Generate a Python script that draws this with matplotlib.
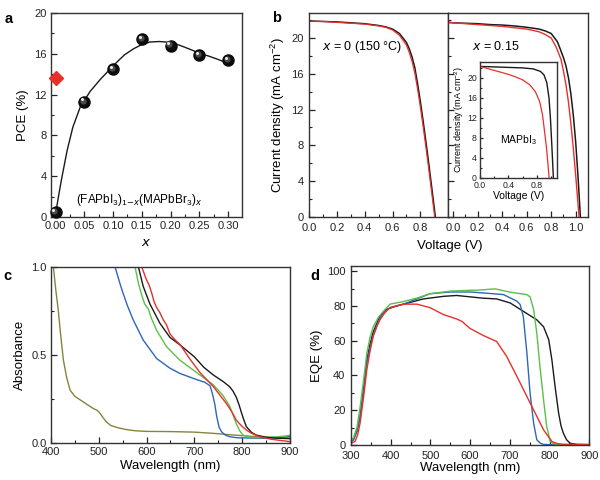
import numpy as np
import matplotlib
matplotlib.use("Agg")
import matplotlib.pyplot as plt
import matplotlib.transforms as mtransforms
from matplotlib.ticker import MultipleLocator, FormatStrFormatter

plt.rcParams['font.family'] = ['Liberation Sans', 'DejaVu Sans']
plt.rcParams['mathtext.default'] = 'regular'
plt.rcParams['axes.edgecolor'] = '#333333'
plt.rcParams['axes.linewidth'] = 1.0

# ---- panel a: PCE vs x
x_comp = [0.00, 0.05, 0.10, 0.15, 0.20, 0.25, 0.30]
pce = [0.5, 11.3, 14.5, 17.4, 16.8, 15.9, 15.4]
x_mapbi3 = [0.0]
pce_mapbi3 = [13.6]
fit_x = [0.0, 0.005, 0.01, 0.02, 0.03, 0.043, 0.06, 0.078, 0.095, 0.107, 0.12, 0.136, 0.15, 0.164,
         0.18, 0.193, 0.21, 0.222, 0.24, 0.251, 0.265, 0.28, 0.303]
fit_y = [0.3, 2.0, 3.6, 6.5, 8.8, 10.8, 12.3, 13.5, 14.5, 15.2, 15.9, 16.5, 16.9, 17.15,
         17.2, 17.15, 16.95, 16.7, 16.3, 16.0, 15.8, 15.5, 15.0]

# ---- panel b: J-V curves
v_b0 = [0.0, 0.1, 0.2, 0.3, 0.4, 0.5, 0.55, 0.6, 0.65, 0.7, 0.72, 0.74, 0.76, 0.78, 0.8,
        0.82, 0.84, 0.86, 0.88, 0.9, 0.91]
j_b0_black = [21.9, 21.85, 21.8, 21.7, 21.6, 21.4, 21.25, 21.0, 20.5, 19.5, 18.8, 17.9, 16.7,
              14.9, 12.9, 10.7, 8.4, 6.0, 3.5, 1.0, -0.3]
j_b0_red = [21.9, 21.85, 21.75, 21.65, 21.55, 21.35, 21.2, 20.9, 20.3, 19.2, 18.4, 17.4, 16.1,
            14.3, 12.3, 10.1, 7.8, 5.4, 2.9, 0.4, -0.8]

v_b15_black = [-0.04, 0.0, 0.1, 0.2, 0.3, 0.4, 0.5, 0.6, 0.7, 0.75, 0.8, 0.85, 0.87, 0.9, 0.92,
               0.94, 0.96, 0.98, 1.0, 1.02, 1.04]
j_b15_black = [21.75, 21.7, 21.65, 21.6, 21.5, 21.45, 21.35, 21.2, 21.0, 20.8, 20.5, 19.6, 18.9,
               17.8, 16.9, 15.6, 13.8, 11.4, 8.3, 4.2, -0.5]
v_b15_red = [-0.04, 0.0, 0.1, 0.2, 0.3, 0.4, 0.5, 0.6, 0.7, 0.75, 0.8, 0.84, 0.88, 0.9, 0.92,
             0.94, 0.96, 0.98, 1.0, 1.02, 1.03]
j_b15_red = [21.75, 21.7, 21.6, 21.5, 21.4, 21.3, 21.15, 21.0, 20.7, 20.4, 20.0, 19.0, 17.6,
             16.3, 14.8, 12.9, 10.5, 7.7, 4.6, 1.2, -0.6]

v_in_black = [0.0, 0.2, 0.4, 0.6, 0.75, 0.85, 0.9, 0.94, 0.97, 0.99, 1.01, 1.025, 1.035]
j_in_black = [22.3, 22.2, 22.1, 22.0, 21.8, 21.3, 20.6, 19.0, 16.0, 12.0, 6.5, 2.0, -1.0]
v_in_red = [0.0, 0.1, 0.2, 0.3, 0.4, 0.5, 0.6, 0.7, 0.78, 0.84, 0.88, 0.91, 0.935, 0.955, 0.975]
j_in_red = [22.3, 21.9, 21.5, 21.1, 20.7, 20.2, 19.6, 18.6, 17.2, 15.2, 12.5, 9.0, 6.0, 2.8, -0.5]

# ---- panel c: absorbance
olive_wl = [405, 410, 415, 420, 426, 433, 440, 450, 461, 475, 488, 497, 503, 510, 516, 525, 540,
            555, 575, 600, 650, 700, 740, 780, 820, 860, 900]
olive_abs = [1.0, 0.87, 0.76, 0.62, 0.47, 0.37, 0.30, 0.265, 0.245, 0.22, 0.197, 0.185, 0.168,
             0.14, 0.12, 0.10, 0.087, 0.078, 0.07, 0.066, 0.065, 0.062, 0.055, 0.046, 0.038,
             0.032, 0.028]
blue_wl = [534, 545, 551, 560, 572, 593, 621, 649, 670, 700, 722, 733, 738, 743, 747, 752, 757,
           765, 774, 790, 820, 844, 870, 893, 900]
blue_abs = [1.0, 0.9, 0.85, 0.78, 0.70, 0.585, 0.48, 0.425, 0.395, 0.365, 0.345, 0.325, 0.28,
            0.22, 0.15, 0.09, 0.064, 0.045, 0.036, 0.03, 0.028, 0.027, 0.03, 0.036, 0.037]
green_wl = [576, 583, 590, 596, 600, 604, 610, 621, 642, 670, 705, 740, 760, 774, 781, 788, 795,
            802, 815, 830, 860, 893, 900]
green_abs = [1.0, 0.907, 0.84, 0.79, 0.775, 0.76, 0.71, 0.64, 0.547, 0.47, 0.40, 0.33, 0.27,
             0.21, 0.16, 0.11, 0.07, 0.045, 0.033, 0.03, 0.033, 0.04, 0.045]
black_wl = [583, 593, 607, 628, 649, 670, 700, 720, 740, 760, 774, 781, 788, 794, 799, 804, 809,
            820, 830, 850, 870, 900]
black_abs = [1.0, 0.89, 0.79, 0.68, 0.60, 0.557, 0.49, 0.43, 0.386, 0.35, 0.32, 0.295, 0.26,
             0.215, 0.17, 0.13, 0.093, 0.06, 0.045, 0.033, 0.028, 0.025]
red_wl = [590, 600, 605, 611, 616, 621, 628, 635, 642, 649, 655, 662, 670, 690, 712, 740, 767,
          778, 788, 798, 809, 820, 837, 860, 900]
red_abs = [1.0, 0.926, 0.9, 0.85, 0.80, 0.77, 0.74, 0.70, 0.67, 0.62, 0.60, 0.58, 0.56, 0.48,
           0.40, 0.32, 0.225, 0.18, 0.13, 0.10, 0.074, 0.055, 0.036, 0.022, 0.008]

# ---- panel d: EQE
black_d_wl = [300, 306, 315, 323, 332, 340, 348, 356, 365, 373, 382, 390, 415, 449, 482, 533,
              566, 600, 630, 667, 701, 734, 768, 785, 798, 806, 814, 823, 829, 835, 843, 852,
              870, 900]
black_d = [2, 3, 8, 16.5, 33, 49, 58, 65, 70, 74, 76.5, 78, 80, 82, 84, 85.5, 86, 85.2, 84.5,
           84, 81.7, 76.9, 72, 68, 60.6, 49, 33.7, 18.3, 11, 6.7, 3, 1, 0.3, 0.2]
green_d_wl = [300, 306, 315, 323, 332, 340, 348, 356, 369, 382, 398, 432, 466, 499, 550, 600,
              616, 663, 701, 743, 751, 760, 768, 776, 785, 793, 802, 810, 820, 900]
green_d = [3, 4, 10, 22, 38, 53, 62, 68, 73.5, 77, 81, 82.5, 84.5, 87, 88.5, 89, 89, 89.8, 87.9,
           86.5, 85.2, 78, 64.4, 45, 26, 10.6, 2, 0.8, 0.3, 0.2]
blue_d_wl = [300, 306, 315, 323, 332, 340, 348, 356, 365, 373, 385, 398, 432, 466, 499, 550,
             600, 642, 684, 718, 726, 734, 743, 751, 760, 768, 777, 785, 800, 900]
blue_d = [2, 3, 8, 16.5, 31, 47, 56, 63, 69, 73, 76.5, 79, 81, 84, 87, 88, 88, 87.3, 86.5, 82.7,
          80.8, 74, 53, 30, 12.5, 3, 1, 0.3, 0.2, 0.2]
red_d_wl = [300, 310, 317, 323, 332, 340, 348, 356, 365, 373, 385, 398, 432, 466, 499, 533, 566,
            580, 600, 633, 667, 692, 718, 743, 764, 785, 806, 820, 835, 900]
red_d = [1, 2, 6, 12.7, 28, 43.5, 54, 62.5, 68, 72, 76, 79, 81, 81, 79, 75, 72.5, 71, 67, 63,
         59.5, 51, 39.4, 27.9, 18.3, 8.7, 2, 0.8, 0.3, 0.2]

C_BLACK = '#1a1a1a'
C_RED = '#e8302a'
C_BLUE = '#2e66b8'
C_GREEN = '#5cbf48'
C_OLIVE = '#85843e'
FS_TICK = 8
FS_LAB = 9.5


def style(ax, xmaj, xmin, ymaj, ymin):
    ax.xaxis.set_major_locator(MultipleLocator(xmaj))
    ax.xaxis.set_minor_locator(MultipleLocator(xmin))
    ax.yaxis.set_major_locator(MultipleLocator(ymaj))
    ax.yaxis.set_minor_locator(MultipleLocator(ymin))
    ax.tick_params(which='both', direction='in', top=False, right=False,
                   labelsize=FS_TICK, colors='#222222', pad=3)
    ax.tick_params(which='major', length=4, width=0.9)
    ax.tick_params(which='minor', length=2.2, width=0.8)


fig = plt.figure(figsize=(6, 4.8), dpi=100)

# ---------------- a
ax_a = fig.add_axes([0.085, 0.548, 0.318, 0.425])
ax_a.plot(fit_x, fit_y, color=C_BLACK, lw=1.0, zorder=2)
ax_a.plot(x_comp, pce, 'o', ms=8, color='#0c0c0c', zorder=3, clip_on=False)
hl = mtransforms.offset_copy(ax_a.transData, fig=fig, x=-0.8, y=0.8, units='points')
ax_a.plot(x_comp, pce, 'o', ms=4.5, color='#4a4a4a', mec='none', transform=hl, zorder=4, clip_on=False)
hl2 = mtransforms.offset_copy(ax_a.transData, fig=fig, x=-1.6, y=1.6, units='points')
ax_a.plot(x_comp, pce, 'o', ms=2.2, color='#e6e6e6', mec='none', transform=hl2, zorder=5, clip_on=False)
ax_a.plot(x_mapbi3, pce_mapbi3, 'D', ms=7, color=C_RED, mec=C_RED, zorder=3, clip_on=False)
ax_a.set_xlim(-0.008, 0.324)
ax_a.set_ylim(0, 20)
style(ax_a, 0.05, 0.025, 4, 2)
ax_a.xaxis.set_major_formatter(FormatStrFormatter('%.2f'))
ax_a.set_xlabel('$\\mathit{x}$', fontsize=FS_LAB, labelpad=4)
ax_a.set_ylabel('PCE (%)', fontsize=FS_LAB, labelpad=4)
ax_a.text(0.46, 0.085, r'(FAPbI$_3$)$_{1\mathit{-x}}$(MAPbBr$_3$)$_\mathit{x}$', transform=ax_a.transAxes,
          ha='center', va='center', fontsize=8.5)

# ---------------- b
ax_b1 = fig.add_axes([0.515, 0.548, 0.232, 0.425])
ax_b2 = fig.add_axes([0.747, 0.548, 0.233, 0.425])
ax_b1.plot(v_b0, j_b0_black, color=C_BLACK, lw=1.1)
ax_b1.plot(v_b0, j_b0_red, color=C_RED, lw=0.9)
ax_b1.set_xlim(0, 1.0)
ax_b1.set_ylim(0, 22.8)
style(ax_b1, 0.2, 0.1, 4, 2)
ax_b1.set_xticks([0.0, 0.2, 0.4, 0.6, 0.8])
ax_b1.xaxis.set_major_formatter(FormatStrFormatter('%.1f'))
ax_b1.tick_params(axis='y', pad=4)
ax_b1.tick_params(axis='x', pad=4)
ax_b1.set_ylabel('Current density (mA cm$^{-2}$)', fontsize=FS_LAB, labelpad=3)
ax_b1.text(0.09, 0.82, '$\\mathit{x}$ = 0 (150 °C)', transform=ax_b1.transAxes, fontsize=9)

ax_b2.plot(v_b15_black, j_b15_black, color=C_BLACK, lw=1.1)
ax_b2.plot(v_b15_red, j_b15_red, color=C_RED, lw=1.0)
ax_b2.set_xlim(-0.04, 1.1)
ax_b2.set_ylim(0, 22.8)
style(ax_b2, 0.2, 0.1, 4, 2)
ax_b2.set_xticks([0.0, 0.2, 0.4, 0.6, 0.8, 1.0])
ax_b2.xaxis.set_major_formatter(FormatStrFormatter('%.1f'))
ax_b2.tick_params(axis='x', pad=4)
ax_b2.tick_params(labelleft=False)
ax_b2.text(0.17, 0.82, '$\\mathit{x}$ = 0.15', transform=ax_b2.transAxes, fontsize=9)
fig.text(0.749, 0.488, 'Voltage (V)', ha='center', va='center', fontsize=FS_LAB)

ax_in = fig.add_axes([0.8, 0.630, 0.128, 0.241])
ax_in.plot(v_in_black, j_in_black, color=C_BLACK, lw=1.0)
ax_in.plot(v_in_red, j_in_red, color=C_RED, lw=0.9)
ax_in.set_xlim(0, 1.08)
ax_in.set_ylim(0, 23.2)
style(ax_in, 0.4, 0.2, 4, 2)
ax_in.tick_params(labelsize=6.3)
ax_in.tick_params(axis='y', pad=2.2)
ax_in.tick_params(axis='x', pad=2.5)
ax_in.tick_params(which='major', length=2.5)
ax_in.tick_params(which='minor', length=1.5)
ax_in.xaxis.set_major_formatter(FormatStrFormatter('%.1f'))
ax_in.set_xlabel('Voltage (V)', fontsize=7.5, labelpad=1)
ax_in.set_ylabel('Current density (mA cm$^{-2}$)', fontsize=6.5, labelpad=1)
ax_in.text(0.5, 0.3, 'MAPbI$_3$', transform=ax_in.transAxes, ha='center', fontsize=7.5)

# ---------------- c
ax_c = fig.add_axes([0.085, 0.077, 0.398, 0.367])
ax_c.plot(olive_wl, olive_abs, color=C_OLIVE, lw=1.0)
ax_c.plot(blue_wl, blue_abs, color=C_BLUE, lw=1.0)
ax_c.plot(green_wl, green_abs, color=C_GREEN, lw=1.0)
ax_c.plot(black_wl, black_abs, color=C_BLACK, lw=1.0)
ax_c.plot(red_wl, red_abs, color=C_RED, lw=1.0)
ax_c.set_xlim(400, 900)
ax_c.set_ylim(0, 1.0)
style(ax_c, 100, 50, 0.5, 0.25)
ax_c.yaxis.set_major_formatter(FormatStrFormatter('%.1f'))
ax_c.set_xlabel('Wavelength (nm)', fontsize=FS_LAB, labelpad=2)
ax_c.set_ylabel('Absorbance', fontsize=FS_LAB, labelpad=4)

# ---------------- d
ax_d = fig.add_axes([0.585, 0.073, 0.397, 0.373])
ax_d.plot(black_d_wl, black_d, color=C_BLACK, lw=1.0)
ax_d.plot(blue_d_wl, blue_d, color=C_BLUE, lw=1.0)
ax_d.plot(green_d_wl, green_d, color=C_GREEN, lw=1.0)
ax_d.plot(red_d_wl, red_d, color=C_RED, lw=1.0)
ax_d.set_xlim(300, 900)
ax_d.set_ylim(0, 103)
style(ax_d, 100, 50, 20, 10)
ax_d.tick_params(axis='y', pad=4)
ax_d.tick_params(axis='x', pad=4)
ax_d.set_xlabel('Wavelength (nm)', fontsize=FS_LAB, labelpad=1)
ax_d.set_ylabel('EQE (%)', fontsize=FS_LAB, labelpad=3)

# panel letters
for lab, px, py in [('a', 0.008, 0.975), ('b', 0.453, 0.977), ('c', 0.005, 0.44), ('d', 0.518, 0.44)]:
    fig.text(px, py, lab, fontsize=10.5, fontweight='bold', ha='left', va='top')

fig.savefig('out.png', dpi=100)
